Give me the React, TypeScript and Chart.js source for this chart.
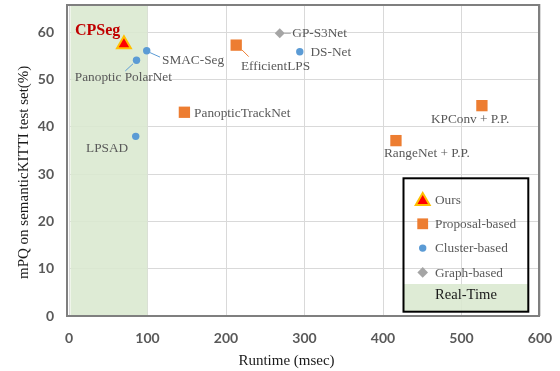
import React, { useEffect, useRef } from "react";
import { Chart, registerables } from "chart.js";
Chart.register(...registerables);

// ---- data ----
const oursNames = ["CPSeg"];
const oursRuntime = [70];
const oursPQ = [57.5];

const proposalNames = ["PanopticTrackNet", "EfficientLPS", "KPConv + P.P.", "RangeNet + P.P."];
const proposalRuntime = [147, 213, 526, 416.5];
const proposalPQ = [43.1, 57.3, 44.5, 37.1];

const clusterNames = ["SMAC-Seg", "Panoptic PolarNet", "LPSAD", "DS-Net"];
const clusterRuntime = [99, 86, 85, 294];
const clusterPQ = [56.1, 54.1, 38.0, 55.9];

const graphNames = ["GP-S3Net"];
const graphRuntime = [268.5];
const graphPQ = [59.8];

const xTicks = [0, 100, 200, 300, 400, 500, 600];
const yTicks = [0, 10, 20, 30, 40, 50, 60];
const xMax = 600;
const yMax = 66;
const realTimeLimit = 100;

const legendLabels = ["Ours", "Proposal-based", "Cluster-based", "Graph-based"];
const realTimeLabel = "Real-Time";
const xTitle = "Runtime (msec)";
const yTitle = "mPQ on semanticKITTI test set(%)";

// ---- styles / layout ----
const RED = "#ff0000";
const YELLOW = "#ffc000";
const ORANGE = "#ed7d31";
const BLUE = "#5b9bd5";
const GREY = "#a5a5a5";
const GREEN = "rgba(218,232,207,0.88)";
const TEXT = "#595959";
const SERIF = "'Liberation Serif', 'Times New Roman', serif";
const SANS = "Lato, 'Liberation Sans', sans-serif";

type LabelLayout = { dx: number; dy: number; line?: [number, number, number, number]; lineColor?: string; bold?: boolean };
const LABEL_LAYOUT: Record<string, LabelLayout> = {
  "CPSeg": { dx: -49, dy: -9, bold: true },
  "SMAC-Seg": { dx: 15.3, dy: 13.3, line: [3.3, 1.8, 13.3, 6.3], lineColor: BLUE },
  "Panoptic PolarNet": { dx: -61.7, dy: 20.7, line: [-3.5, 3.5, -11.2, 10.7], lineColor: BLUE },
  "LPSAD": { dx: -49.7, dy: 15.2 },
  "PanopticTrackNet": { dx: 9.7, dy: 4.7 },
  "EfficientLPS": { dx: 4.7, dy: 24.7, line: [5.7, 4.7, 12.5, 11.5], lineColor: ORANGE },
  "GP-S3Net": { dx: 12.5, dy: 3.2, line: [4.5, 0, 11, 0], lineColor: GREY },
  "DS-Net": { dx: 10.7, dy: 4.3 },
  "KPConv + P.P.": { dx: -51, dy: 17.2 },
  "RangeNet + P.P.": { dx: -12, dy: 16.2 },
};

function drawMarker(ctx: CanvasRenderingContext2D, kind: number, x: number, y: number) {
  ctx.save();
  ctx.beginPath();
  if (kind === 0) {
    const r = 8;
    ctx.moveTo(x, y - r);
    ctx.lineTo(x + r * Math.sin((2 * Math.PI) / 3), y - r * Math.cos((2 * Math.PI) / 3));
    ctx.lineTo(x + r * Math.sin((4 * Math.PI) / 3), y - r * Math.cos((4 * Math.PI) / 3));
    ctx.closePath();
    ctx.fillStyle = RED;
    ctx.fill();
    ctx.lineWidth = 2;
    ctx.strokeStyle = YELLOW;
    ctx.stroke();
  } else if (kind === 1) {
    ctx.fillStyle = ORANGE;
    ctx.fillRect(x - 5.4, y - 5.4, 10.8, 10.8);
  } else if (kind === 2) {
    ctx.arc(x, y, 3.7, 0, Math.PI * 2);
    ctx.fillStyle = BLUE;
    ctx.fill();
  } else {
    const r = 5.3;
    ctx.moveTo(x - r, y);
    ctx.lineTo(x, y - r);
    ctx.lineTo(x + r, y);
    ctx.lineTo(x, y + r);
    ctx.closePath();
    ctx.fillStyle = GREY;
    ctx.fill();
  }
  ctx.restore();
}

const decorPlugin = {
  id: "decor",
  beforeDatasetsDraw(chart: any) {
    const { ctx, chartArea: a, scales } = chart;
    const xs = scales.x;
    ctx.save();
    const x0 = xs.getPixelForValue(0) + 1.5;
    const x1 = xs.getPixelForValue(realTimeLimit);
    ctx.fillStyle = GREEN;
    ctx.fillRect(x0, a.top + 1, x1 - x0, a.bottom - a.top - 1);
    ctx.strokeStyle = "#7f7f7f";
    ctx.lineWidth = 2;
    ctx.strokeRect(a.left - 2, a.top + 1, a.right - a.left + 1, a.bottom - a.top - 1);
    ctx.restore();
  },
  afterDatasetsDraw(chart: any) {
    const { ctx, chartArea: a } = chart;
    ctx.save();
    chart.data.datasets.forEach((ds: any, di: number) => {
      const meta = chart.getDatasetMeta(di);
      ds.names.forEach((name: string, i: number) => {
        const el = meta.data[i];
        const L = LABEL_LAYOUT[name] || { dx: 8, dy: 4 };
        if (L.line) {
          ctx.beginPath();
          ctx.strokeStyle = L.lineColor || TEXT;
          ctx.lineWidth = 1;
          ctx.moveTo(el.x + L.line[0], el.y + L.line[1]);
          ctx.lineTo(el.x + L.line[2], el.y + L.line[3]);
          ctx.stroke();
        }
        ctx.textAlign = "left";
        ctx.textBaseline = "alphabetic";
        if (L.bold) {
          ctx.font = `bold 16px ${SERIF}`;
          ctx.fillStyle = "#c00000";
        } else {
          ctx.font = `13.3px ${SERIF}`;
          ctx.fillStyle = TEXT;
        }
        ctx.fillText(name, el.x + L.dx, el.y + L.dy);
      });
    });

    // legend box
    const bl = a.right - 136.5;
    const br = a.right - 11.7;
    const bt = a.bottom - 137.7;
    const bb = a.bottom - 4.3;
    ctx.fillStyle = GREEN;
    ctx.fillRect(bl, bb - 27.7, br - bl, 27.7);
    ctx.strokeStyle = "#000000";
    ctx.lineWidth = 2;
    ctx.strokeRect(bl, bt, br - bl, bb - bt);
    const mx = bl + 19.2;
    const tx = bl + 31.5;
    legendLabels.forEach((lab, i) => {
      const cy = bt + 21.2 + i * 24.3;
      drawMarker(ctx, i, mx, i === 0 ? cy + 1.5 : cy);
      ctx.font = `13.3px ${SERIF}`;
      ctx.fillStyle = TEXT;
      ctx.textAlign = "left";
      ctx.textBaseline = "alphabetic";
      ctx.fillText(lab, tx, cy + 4.3);
    });
    ctx.font = `14.6px ${SERIF}`;
    ctx.fillStyle = "#1a1a1a";
    ctx.fillText(realTimeLabel, tx, bb - 12.7);

    // axis titles
    ctx.font = `15px ${SERIF}`;
    ctx.fillStyle = "#1a1a1a";
    ctx.textAlign = "center";
    ctx.fillText(xTitle, 286.5, 364.5);
    ctx.translate(27.5, 279);
    ctx.rotate(-Math.PI / 2);
    ctx.textAlign = "left";
    ctx.fillText(yTitle, 0, 0);
    ctx.restore();
  },
};

export default function App() {
  const ref = useRef<HTMLCanvasElement>(null);
  useEffect(() => {
    document.body.style.margin = "0";
    const canvas = ref.current!;
    const mk = (xs: number[], ys: number[]) => xs.map((x, i) => ({ x, y: ys[i] }));
    const chart = new Chart(canvas, {
      type: "scatter",
      data: {
        datasets: [
          { label: legendLabels[0], names: oursNames, data: mk(oursRuntime, oursPQ), pointStyle: "triangle", pointRadius: 8, backgroundColor: RED, borderColor: YELLOW, borderWidth: 2 } as any,
          { label: legendLabels[1], names: proposalNames, data: mk(proposalRuntime, proposalPQ), pointStyle: "rect", pointRadius: 8, backgroundColor: ORANGE, borderWidth: 0 } as any,
          { label: legendLabels[2], names: clusterNames, data: mk(clusterRuntime, clusterPQ), pointStyle: "circle", pointRadius: 3.7, backgroundColor: BLUE, borderWidth: 0 } as any,
          { label: legendLabels[3], names: graphNames, data: mk(graphRuntime, graphPQ), pointStyle: "rectRot", pointRadius: 5, backgroundColor: GREY, borderWidth: 0 } as any,
        ],
      },
      options: {
        responsive: false,
        animation: false,
        devicePixelRatio: 1,
        layout: { autoPadding: false, padding: { top: 4, right: 20, left: 0, bottom: 0 } },
        plugins: { legend: { display: false }, tooltip: { enabled: false } },
        scales: {
          x: {
            type: "linear",
            min: 0,
            max: xMax,
            afterFit: (s: any) => { s.height = 55; s.paddingLeft = 0; s.paddingRight = 0; },
            afterBuildTicks: (s: any) => { s.ticks = xTicks.map((v) => ({ value: v })); },
            grid: { color: "#d9d9d9", drawTicks: false, lineWidth: 1 },
            border: { display: false },
            ticks: { padding: 14, color: TEXT, font: { family: SANS, size: 14, weight: "bold" } },
          },
          y: {
            type: "linear",
            min: 0,
            max: yMax,
            afterFit: (s: any) => { s.width = 69; s.paddingTop = 0; s.paddingBottom = 0; },
            afterBuildTicks: (s: any) => { s.ticks = yTicks.map((v) => ({ value: v })); },
            grid: { color: "#d9d9d9", drawTicks: false, lineWidth: 1 },
            border: { display: false },
            ticks: { padding: 15, color: TEXT, font: { family: SANS, size: 14, weight: "bold" } },
          },
        },
      } as any,
      plugins: [decorPlugin],
    });
    return () => chart.destroy();
  }, []);
  return <canvas ref={ref} width={560} height={371} style={{ display: "block" }} />;
}
